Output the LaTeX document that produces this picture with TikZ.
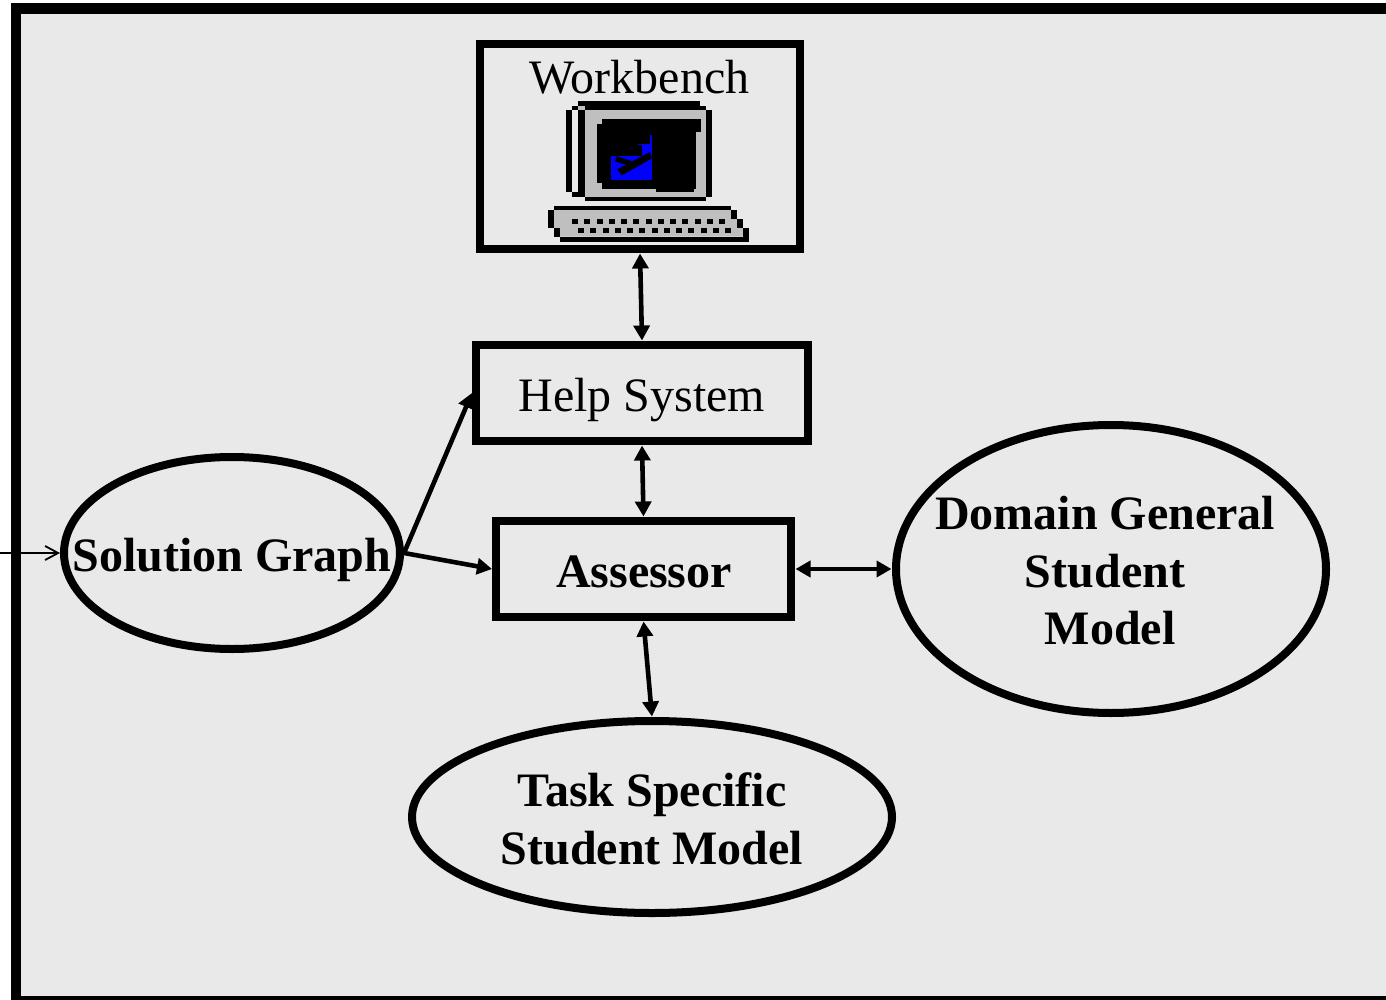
\documentclass[tikz,border=0pt]{standalone}
\usepackage{fontspec}
\setmainfont{Liberation Serif}
\usetikzlibrary{arrows.meta,shapes.geometric}
\definecolor{panel}{HTML}{E9E9E9}
\definecolor{icongray}{HTML}{BFBFBF}
\newcommand\ztext[3]{\raisebox{#2pt}[0pt][0pt]{\makebox[0pt]{\hspace*{#1pt}#3}}}
\tikzset{
  boxnode/.style={draw=black,line width=8pt,rectangle,inner sep=0pt,font=\fontsize{48}{50}\selectfont},
  ovalnode/.style={draw=black,line width=8pt,ellipse,inner sep=0pt,font=\fontsize{48}{50}\selectfont\bfseries},
  link/.style={line width=4.6pt,{Triangle[length=15pt,width=16pt]}-{Triangle[length=15pt,width=16pt]},shorten <=0.5pt,shorten >=0.5pt},
  onelink/.style={line width=4.6pt,-{Triangle[length=15pt,width=16pt]}},
  feed/.style={line width=1.8pt,-{Straight Barb[length=13pt,width=14pt,line width=1.8pt]}},
  blk/.style={fill=black,draw=none},
  gry/.style={fill=icongray,draw=none},
  blu/.style={fill=blue,draw=none}
}
\begin{document}
\begin{tikzpicture}[x=1pt,y=-1pt]
\useasboundingbox (0,0) rectangle (1386,1000);
\fill[white] (0,0) rectangle (1386,1000);
\fill[black] (11,3.5) rectangle (1386,1000);
\fill[panel] (21,14) rectangle (1386,995.5);

\node[boxnode,minimum width=320pt,minimum height=205pt] (work) at (640,146.5) {\ztext{-1}{52.5}{Workbench}};
\node[boxnode,minimum width=332pt,minimum height=96pt] (help) at (642,393) {\ztext{0}{-18.7}{Help System}};
\node[boxnode,minimum width=295pt,minimum height=96pt] (assess) at (643.5,569) {\ztext{1}{-18.2}{\bfseries Assessor}};
\node[ovalnode,minimum width=336pt,minimum height=192pt] (sol) at (232,553) {\ztext{0}{-18.7}{Solution Graph}};
\node[ovalnode,minimum width=430pt,minimum height=288pt] (dom) at (1111,569) {\ztext{-12}{40}{Domain General}\ztext{-12}{-18}{Student}\ztext{-2}{-75}{Model}};
\node[ovalnode,minimum width=480pt,minimum height=192pt] (task) at (652,817) {\ztext{0}{11}{Task Specific}\ztext{0}{-47}{Student Model}};
\coordinate (inlet) at (0,553);

\draw[link] (work.south) -- (help.north);
\draw[link] (help.south) -- (assess.north);
\draw[link] (assess.south) -- (task.north);
\draw[link] (assess.east) -- (dom.west);
\draw[onelink] (sol.east) -- (assess.west);
\draw[onelink] (sol.east) -- (help.west);
\draw[feed] (inlet) -- (sol.west);

\begin{scope}[shift={(540,90)},x=0.33333pt,y=-0.33333pt]
  % monitor
  \fill[blk] (114,33) rectangle (480,48);
  \fill[blk] (96,48) rectangle (498,60);
  \fill[blk] (78,60) rectangle (96,306);
  \fill[blk] (96,306) rectangle (135,320);
  \fill[panel] (96,60) rectangle (114,306);
  \fill[blk] (114,60) rectangle (135,320);
  \fill[icongray] (114,48) rectangle (135,60);
  \fill[gry] (135,60) rectangle (498,320);
  \fill[blk] (498,60) rectangle (516,320);
  \fill[blk] (135,320) rectangle (498,332);
  % screen
  \fill[blk] (186,87) rectangle (484,126);
  \fill[blk] (171,102) rectangle (468,280);
  \fill[blk] (186,280) rectangle (468,298);
  \fill[blk] (348,298) rectangle (462,306);
  % picture on screen
  \fill[blu] (213,198) rectangle (336,270);
  \fill[blu] (306,165) rectangle (336,198);
  \fill[blu] (330,135) rectangle (336,165);
  \fill[blu] (294,162) rectangle (330,165);
  \fill[blk] (232,238) -- (330,186) -- (336,205) -- (245,256) -- cycle;
  \fill[blk] (228,198) -- (300,222) -- (288,232) -- (226,215) -- cycle;
  % keyboard
  \fill[gry] (42,360) -- (573,360) -- (573,387) -- (591,387) -- (591,414) -- (609,414) -- (609,440) -- (60,440) -- (60,414) -- (42,414) -- cycle;
  \fill[blk] (42,348) rectangle (573,360);
  \fill[blk] (24,360) rectangle (42,414);
  \fill[blk] (42,414) rectangle (60,440);
  \fill[blk] (60,440) rectangle (627,456);
  \fill[blk] (573,360) rectangle (591,387);
  \fill[blk] (591,387) rectangle (609,414);
  \fill[blk] (609,414) rectangle (627,440);
  \foreach \k in {0,...,12} {
    \fill[blk] ({96+36.75*\k},387) rectangle ({114+36.75*\k},402);
    \fill[blk] ({114+36.75*\k},414) rectangle ({132+36.75*\k},429);
  }
\end{scope}
\end{tikzpicture}
\end{document}
